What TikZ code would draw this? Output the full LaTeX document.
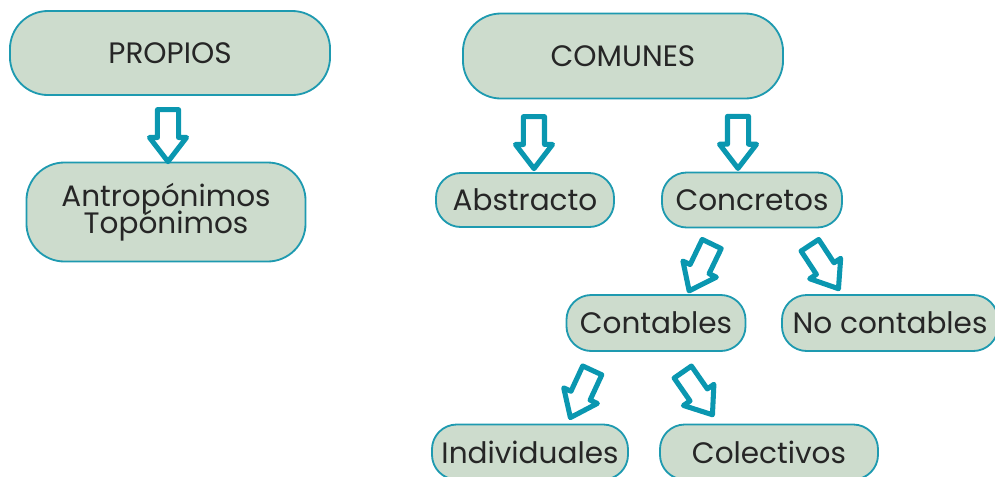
\documentclass[tikz,border=0pt]{standalone}
\usepackage{fontspec}
\setmainfont{Poppins}
\usetikzlibrary{shapes.arrows}

\definecolor{sage}{HTML}{CDDCCD}
\definecolor{boxline}{HTML}{1E9AB0}
\definecolor{arrowline}{HTML}{0A97B0}

\begin{document}
\begin{tikzpicture}[x=0.025cm, y=-0.025cm,
    box/.style={draw=boxline, fill=sage, line width=1.3pt, rounded corners=0.62cm,
      inner sep=0pt, align=center, text=black!85,
      font=\fontsize{21}{18}\selectfont},
    bigbox/.style={box, rounded corners=0.95cm},
    blockarrow/.style={single arrow, draw=arrowline, fill=white, line width=3.6pt,
      line join=round, inner sep=0.2cm, minimum height=1.3cm,
      single arrow head extend=0.2cm, single arrow tip angle=75}]
  \useasboundingbox (0,0) rectangle (995,476);
  % boxes
  \node [bigbox, minimum width=8cm, minimum height=2.1cm] (propios) at (170,53) {PROPIOS};
  \node [bigbox, minimum width=6.975cm, minimum height=2.475cm] (antro) at (166,212)
    {Antropónimos\\[-4pt]Topónimos};
  \node [bigbox, minimum width=8cm, minimum height=2.125cm] (comunes) at (623,56) {COMUNES};
  \node [box, minimum width=4.45cm, minimum height=1.35cm] (abst) at (525,200) {Abstracto};
  \node [box, minimum width=4.5cm, minimum height=1.375cm] (conc) at (752,200) {Concretos};
  \node [box, minimum width=4.475cm, minimum height=1.4cm] (cont) at (656,323) {Contables};
  \node [box, minimum width=5.4cm, minimum height=1.4cm] (nocont) at (890,323) {No contables};
  \node [box, minimum width=4.9cm, minimum height=1.375cm] (indiv) at (530,452) {Individuales};
  \node [box, minimum width=5.45cm, minimum height=1.375cm] (colec) at (769,452) {Colectivos};
  % arrows
  \foreach \a/\sa/\b/\sb in {propios.south/-0.05cm/antro.north/0.05cm,
      comunes.south/-2.225cm/abst.north/0.225cm,
      comunes.south/2.875cm/conc.north/-0.35cm,
      conc.south/-0.82cm/cont.north/0.79cm,
      conc.south/1.17cm/nocont.north/-1.2cm,
      cont.south/-1.38cm/indiv.north/0.94cm,
      cont.south/0.32cm/colec.north/-1.26cm}
    \path ([xshift=\sa]\a) -- ([xshift=\sb]\b)
      node [blockarrow, midway, sloped, allow upside down] {};
\end{tikzpicture}
\end{document}
